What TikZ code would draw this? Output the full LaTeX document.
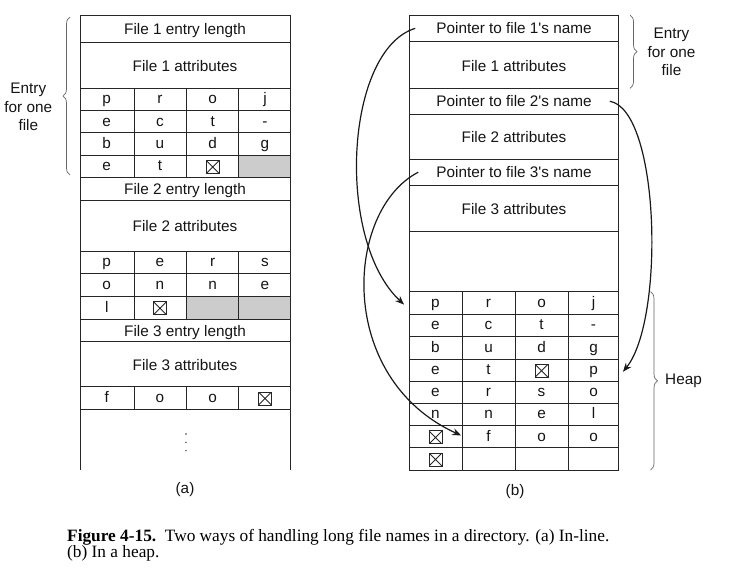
\documentclass[tikz,border=0pt]{standalone}
\usepackage{fontspec}
\setmainfont{Liberation Sans}[Ligatures=TeXOff]
\newfontfamily\capfont{Liberation Serif}
\usetikzlibrary{decorations.pathreplacing,arrows.meta}
\newcommand\lrow[3]{\foreach \cc/\ch in {#3}{\pgfmathsetmacro\xx{{106.7,160,212.7,265}[\cc-1]}\node[lt] (#1-\cc) at (\xx,#2+4.3) {\ch};}}
\newcommand\rrow[3]{\foreach \cc/\ch in {#3}{\pgfmathsetmacro\xx{{435.5,488.5,541.5,593.5}[\cc-1]}\node[lt] (#1-\cc) at (\xx,#2+4.3) {\ch};}}
\begin{document}
\begin{tikzpicture}[x=1pt,y=-1pt,
  tl/.style={line width=1pt, draw=black!85},
  lbl/.style={font=\fontsize{15.3}{18.5}\selectfont, inner sep=0pt, text=black!92},
  lt/.style={lbl, anchor=base},
  xbox/.style={draw=black!85, line width=0.9pt, minimum size=13pt, inner sep=0pt,
    path picture={\draw[black!85,line width=0.9pt]
      (path picture bounding box.south west) -- (path picture bounding box.north east)
      (path picture bounding box.north west) -- (path picture bounding box.south east);}},
  greycell/.style={fill=black!20},
  ptr/.style={line width=1.2pt, draw=black!90, -{Stealth[length=9pt,width=7pt,inset=3pt]}},
  brc/.style={draw=black!60, line width=0.7pt, decorate, decoration={brace, amplitude=7pt}},
]
\useasboundingbox (0,0) rectangle (742,574);

% ================= (a) in-line =================
\fill[greycell] (238,155.3) rectangle (290,177.3);
\fill[greycell] (186,296) rectangle (290,319.3);
\draw[tl] (80,470) -- (80,15) -- (290,15) -- (290,470);
\foreach \yy in {42,88,110.7,132.7,155.3,177.3,200,251,273.3,296,319.3,341.7,386.7,409}
  \draw[tl] (80,\yy) -- (290,\yy);
\foreach \xx in {134,186,238}{
  \draw[tl] (\xx,88) -- (\xx,177.3);
  \draw[tl] (\xx,251) -- (\xx,319.3);
  \draw[tl] (\xx,386.7) -- (\xx,409);
}
\node[lt] (a-f1len) at (185,28.5+5.5) {File 1 entry length};
\node[lt] (a-f1att) at (185,65.5+5.5) {File 1 attributes};
\node[lt] (a-f2len) at (185,189+5.5) {File 2 entry length};
\node[lt] (a-f2att) at (185,225.5+5.5) {File 2 attributes};
\node[lt] (a-f3len) at (185,330.8+5.5) {File 3 entry length};
\node[lt] (a-f3att) at (185,364.5+5.5) {File 3 attributes};
\lrow{a1}{99.35}{1/p,2/r,3/o,4/j}
\lrow{a2}{121.7}{1/e,2/c,3/t,4/-}
\lrow{a3}{144}{1/b,2/u,3/d,4/g}
\lrow{a4}{166.3}{1/e,2/t}
\node[xbox] (a4-3) at (212.7,167) {};
\lrow{a5}{262.2}{1/p,2/e,3/r,4/s}
\lrow{a6}{284.7}{1/o,2/n,3/n,4/e}
\lrow{a7}{307.7}{1/l}
\node[xbox] (a7-2) at (160,308.3) {};
\lrow{a8}{397.9}{1/f,2/o,3/o}
\node[xbox] (a8-4) at (265,398.5) {};
\foreach \yy in {434,442.3,450.6} \fill[black!80] (186,\yy) circle (0.8);
\draw[brc] (70,175) -- (70,17);
\node[lbl, align=center] (a-entry) at (28.3,107) {Entry\\for one\\file};
\node[lbl] (a-cap) at (185,490) {(a)};

% ================= (b) heap =================
\draw[tl] (409.3,15) rectangle (618.7,470);
\foreach \yy in {41.7,88.3,114,159.3,185,231.7,291.7,314,336.7,359,381,403.3,425.7,447.7}
  \draw[tl] (409.3,\yy) -- (618.7,\yy);
\foreach \xx in {462.3,515,568.3}
  \draw[tl] (\xx,291.7) -- (\xx,470);
\node[lt] (b-p1) at (514,28.3+5.5) {Pointer to file 1's name};
\node[lt] (b-f1att) at (514,65.5+5.5) {File 1 attributes};
\node[lt] (b-p2) at (514,101.2+5.5) {Pointer to file 2's name};
\node[lt] (b-f2att) at (514,136.7+5.5) {File 2 attributes};
\node[lt] (b-p3) at (514,172.2+5.5) {Pointer to file 3's name};
\node[lt] (b-f3att) at (514,208.5+5.5) {File 3 attributes};
\rrow{h1}{302.8}{1/p,2/r,3/o,4/j}
\rrow{h2}{325.3}{1/e,2/c,3/t,4/-}
\rrow{h3}{347.8}{1/b,2/u,3/d,4/g}
\rrow{h4}{370}{1/e,2/t,4/p}
\node[xbox] (h4-3) at (541.5,370.7) {};
\rrow{h5}{392.2}{1/e,2/r,3/s,4/o}
\rrow{h6}{414.5}{1/n,2/n,3/e,4/l}
\rrow{h7}{436.7}{2/f,3/o,4/o}
\node[xbox] (h7-1) at (435.5,437.4) {};
\node[xbox] (h8-1) at (435.5,459.5) {};
\draw[brc] (630,15) -- (630,88.3);
\node[lbl, align=center] (b-entry) at (671.5,52) {Entry\\for one\\file};
\draw[brc] (650.5,291.7) -- (650.5,470);
\node[lbl, anchor=west] (b-heap) at (665,381) {Heap};
\node[lbl] (b-cap) at (515,491.5) {(b)};

% pointers
\coordinate (s1) at ([xshift=-21pt]b-p1.west);
\coordinate (s2) at ([xshift=18pt]b-p2.east);
\coordinate (s3) at ([xshift=-18pt]b-p3.west);
\coordinate (t1) at ([xshift=-27pt]h1-1.west);
\coordinate (t2) at ([xshift=25pt]h4-4.east);
\coordinate (t3) at ([xshift=-25pt]h7-2.west);
\draw[ptr] (s1) .. controls (345,50) and (335,240) .. (t1|-h1-1);
\draw[ptr] (s3) .. controls (345,210) and (335,378) .. (t3|-h7-2);
\draw[ptr] (s2) .. controls (660,110) and (665,320) .. (t2|-h4-4);

% caption
\node[anchor=base west, inner sep=0pt, font=\capfont\fontsize{17.3}{16}\selectfont] (cap1) at (67,541.7)
  {\textbf{Figure 4-15.}\ \ Two ways of handling long file names in a directory. (a) In-line.};
\node[anchor=base west, inner sep=0pt, font=\capfont\fontsize{17.3}{16}\selectfont] (cap2) at (67,557.7)
  {(b) In a heap.};
\end{tikzpicture}
\end{document}
